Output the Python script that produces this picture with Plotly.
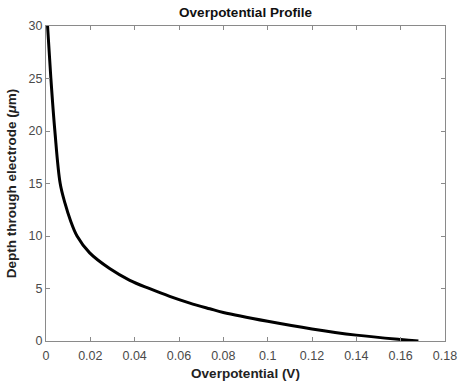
import plotly.graph_objects as go

overpotential_v = [0.0007, 0.0022, 0.0040, 0.0064, 0.0086, 0.0110, 0.0140, 0.0197,
                   0.0287, 0.0378, 0.0468, 0.0558, 0.0649, 0.0739, 0.080, 0.100,
                   0.120, 0.140, 0.160, 0.168]
depth_um = [30, 25, 20, 15, 13.1, 11.5, 10, 8.39,
            6.9, 5.78, 4.98, 4.25, 3.61, 3.07, 2.72, 1.88,
            1.15, 0.56, 0.14, 0]

x_tickvals = [0, 0.02, 0.04, 0.06, 0.08, 0.1, 0.12, 0.14, 0.16, 0.18]
x_ticktext = ["0", "0.02", "0.04", "0.06", "0.08", "0.1", "0.12", "0.14", "0.16", "0.18"]
y_tickvals = [0, 5, 10, 15, 20, 25, 30]
y_ticktext = ["0", "5", "10", "15", "20", "25", "30"]

FONT = "Liberation Sans, Arial, Helvetica, sans-serif"
AXIS_COLOR = "#8a8a8a"
TICK_FONT_COLOR = "#4a4a4a"

fig = go.Figure()
fig.add_trace(go.Scatter(
    x=overpotential_v, y=depth_um, mode="lines",
    line=dict(color="black", width=3, shape="spline", smoothing=1.0),
    showlegend=False, hoverinfo="skip",
))

axis_common = dict(
    showline=True, linecolor=AXIS_COLOR, linewidth=1, mirror="ticks",
    ticks="inside", ticklen=4, tickcolor=AXIS_COLOR, tickwidth=1,
    showgrid=False, zeroline=False, automargin=False,
    tickfont=dict(family=FONT, size=12.5, color=TICK_FONT_COLOR),
)

fig.update_layout(
    width=458, height=381,
    margin=dict(l=46, r=13, t=26, b=40),
    paper_bgcolor="white", plot_bgcolor="white",
    title=dict(text="<b>Overpotential Profile</b>", x=0.5, xanchor="center",
               xref="paper", y=1, yref="container", yanchor="top", pad=dict(t=8),
               font=dict(family=FONT, size=13.5, color="#111")),
    xaxis=dict(range=[0, 0.18], tickvals=x_tickvals, ticktext=x_ticktext,
               ticklabelstandoff=3,
               title=dict(text="<b>Overpotential (V)</b>", standoff=6,
                          font=dict(family=FONT, size=13.5, color="#222")),
               **axis_common),
    yaxis=dict(range=[0, 30], tickvals=y_tickvals, ticktext=y_ticktext,
               title=dict(text="<b>Depth through electrode (<i>μ</i>m)</b>", standoff=8,
                          font=dict(family=FONT, size=13.5, color="#222")),
               **axis_common),
)

fig.write_html("out.html", config={"displayModeBar": False},
               post_script="document.body.style.margin='0';")
